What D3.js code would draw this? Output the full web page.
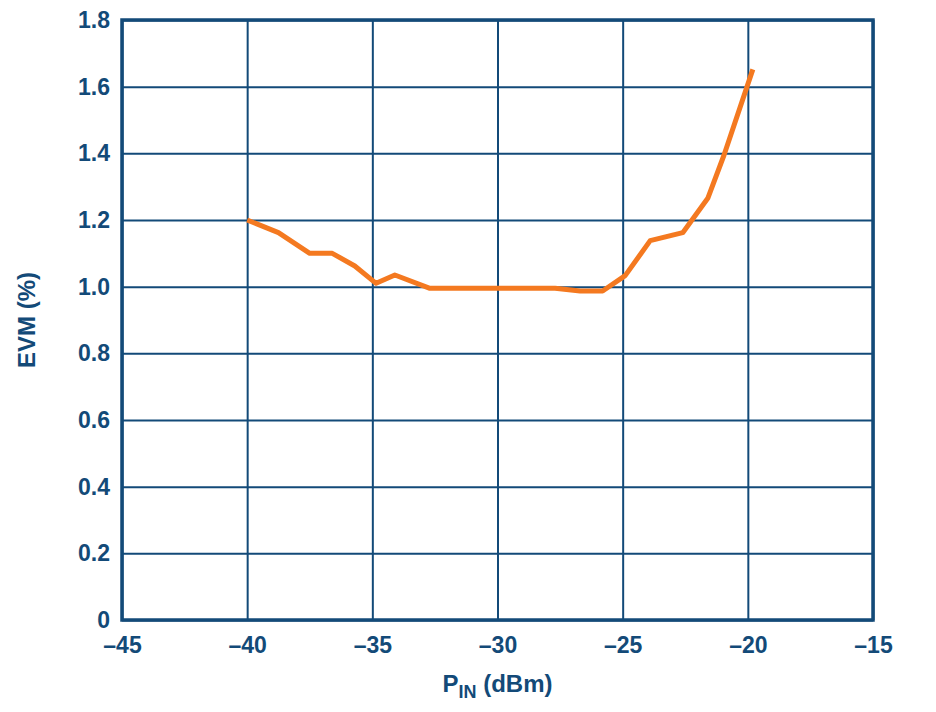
<!DOCTYPE html>
<html>
<head>
  <meta charset="utf-8">
  <script src="https://d3js.org/d3.v7.min.js"></script>
  <style>
    body { margin: 0; background: #fff; }
    .gridlines line { stroke: #134a78; stroke-width: 2; }
    .gridlines .domain { stroke: none; }
    .axis .domain, .axis line { stroke: none; }
    .axis text { fill: #134a78; font-family: "Liberation Sans", Arial, sans-serif; font-weight: bold; font-size: 23px; }
  </style>
</head>
<body>
  <svg id="chart" width="936" height="712"></svg>
  <script>
    // EVM vs input power
    const pin = [-40, -38.75, -37.5, -36.6, -35.7, -34.85, -34.1, -32.7, -30, -27.7, -26.7, -25.8, -24.9, -23.9, -22.6, -21.6, -20.95, -19.8];
    const evm = [1.2, 1.162, 1.10, 1.10, 1.062, 1.010, 1.035, 0.995, 0.995, 0.995, 0.987, 0.987, 1.033, 1.138, 1.162, 1.265, 1.395, 1.652];
    const xTicks = [-45, -40, -35, -30, -25, -20, -15];
    const yTicks = [0, 0.2, 0.4, 0.6, 0.8, 1.0, 1.2, 1.4, 1.6, 1.8];

    const navy = '#134a78';
    const svg = d3.select('svg#chart');
    const margins = { top: 20, right: 63, bottom: 92, left: 122 };
    const chartWidth = 936 - margins.left - margins.right;
    const chartHeight = 712 - margins.top - margins.bottom;

    const chartArea = svg.append('g')
      .attr('transform', `translate(${margins.left},${margins.top})`);

    const xScale = d3.scaleLinear().domain([-45, -15]).range([0, chartWidth]);
    const yScale = d3.scaleLinear().domain([0, 1.8]).range([chartHeight, 0]);

    chartArea.append('g')
      .attr('class', 'gridlines')
      .attr('transform', `translate(0,${chartHeight})`)
      .call(d3.axisBottom(xScale).tickValues(xTicks).tickSize(-chartHeight).tickFormat(''));

    chartArea.append('g')
      .attr('class', 'gridlines')
      .call(d3.axisLeft(yScale).tickValues(yTicks).tickSize(-chartWidth).tickFormat(''));

    chartArea.append('rect')
      .attr('width', chartWidth)
      .attr('height', chartHeight)
      .attr('fill', 'none')
      .attr('stroke', navy)
      .attr('stroke-width', 3.5);

    chartArea.append('g')
      .attr('class', 'axis')
      .attr('transform', `translate(0,${chartHeight})`)
      .call(d3.axisBottom(xScale).tickValues(xTicks).tickSize(0).tickPadding(17)
        .tickFormat(d => String(d).replace('-', '\u2013')));

    chartArea.append('g')
      .attr('class', 'axis')
      .call(d3.axisLeft(yScale).tickValues(yTicks).tickSize(0).tickPadding(12)
        .tickFormat(d => d === 0 ? '0' : d3.format('.1f')(d)));

    chartArea.append('path')
      .datum(pin.map((p, i) => [p, evm[i]]))
      .attr('fill', 'none')
      .attr('stroke', '#f47920')
      .attr('stroke-width', 5)
      .attr('stroke-linejoin', 'round')
      .attr('d', d3.line().x(d => xScale(d[0])).y(d => yScale(d[1])));

    // axis titles
    const xTitle = svg.append('text')
      .attr('x', margins.left + xScale(-30))
      .attr('y', 692)
      .attr('text-anchor', 'middle')
      .style('fill', navy)
      .style('font-family', '"Liberation Sans", Arial, sans-serif')
      .style('font-weight', 'bold')
      .style('font-size', '24px');
    xTitle.append('tspan').text('P');
    xTitle.append('tspan').text('IN').attr('dy', 6).style('font-size', '18px');
    xTitle.append('tspan').text(' (dBm)').attr('dy', -6);

    svg.append('text')
      .attr('transform', 'translate(35,320) rotate(-90)')
      .attr('text-anchor', 'middle')
      .text('EVM (%)')
      .style('fill', navy)
      .style('font-family', '"Liberation Sans", Arial, sans-serif')
      .style('font-weight', 'bold')
      .style('font-size', '24px');
  </script>
</body>
</html>
